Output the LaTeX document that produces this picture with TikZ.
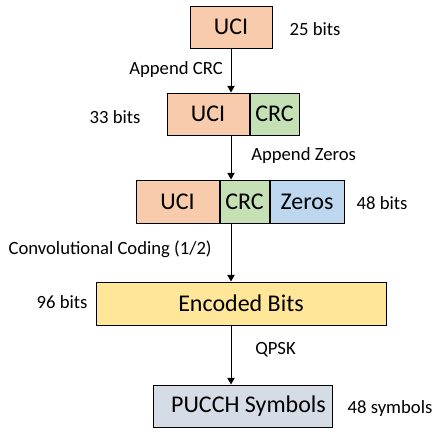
\documentclass[tikz,border=0pt]{standalone}
\usepackage{fontspec}
\setmainfont{Carlito}
\usetikzlibrary{arrows.meta}

\definecolor{ucifill}{HTML}{F8CBAD}
\definecolor{crcfill}{HTML}{C5E0B4}
\definecolor{zerosfill}{HTML}{BDD7EE}
\definecolor{encfill}{HTML}{FFE699}
\definecolor{symfill}{HTML}{D6DCE5}

\tikzset{
        field/.style={draw=black, line width=0.75pt, inner sep=0pt,
                minimum height=31.5pt, font=\fontsize{18}{21}\selectfont},
        note/.style={inner sep=0pt, font=\fontsize{14}{16}\selectfont},
        flow/.style={line width=0.75pt, -{Triangle[length=5pt,width=5.5pt]}}
}

\begin{document}
\begin{tikzpicture}[x=0.75pt, y=-0.75pt]
        \useasboundingbox (0,0) rectangle (448,440);

        % UCI
        \node[field, fill=ucifill, minimum width=61.5pt] (uci) at (231,27) {UCI};
        \node[note] (nuci) at (315,29) {25 bits};

        % UCI + CRC
        \node[field, fill=ucifill, minimum width=61.5pt] (uciA) at (208,114) {UCI};
        \node[field, fill=crcfill, minimum width=36.75pt, anchor=west] (crcA) at (uciA.east) {CRC};
        \node[note] (nA) at (115,117) {33 bits};

        % UCI + CRC + Zeros
        \node[field, fill=ucifill, minimum width=62.25pt, minimum height=32.25pt] (uciB) at (177.5,201.5) {UCI};
        \node[field, fill=crcfill, minimum width=36.75pt, minimum height=32.25pt, anchor=west] (crcB) at (uciB.east) {CRC};
        \node[field, fill=zerosfill, minimum width=55.5pt, minimum height=32.25pt, anchor=west] (zerosB) at (crcB.east) {Zeros};
        \node[note] (nB) at (382,203) {48 bits};

        % encoded
        \node[field, fill=encfill, minimum width=217.5pt, minimum height=32.25pt] (enc) at (241,303.5) {Encoded Bits\hspace{11pt}};
        \node[note] (nenc) at (62,302) {96 bits};

        % symbols
        \node[field, fill=symfill, minimum width=134.25pt] (sym) at (242.5,406) {\hspace{9pt}PUCCH Symbols};
        \node[note] (nsym) at (390,409) {48 symbols};

        % steps
        \draw[flow] (uci.south) -- (uci.south |- uciA.north);
        \draw[flow] (uci.south |- uciA.south) -- (uci.south |- crcB.north);
        \draw[flow] (uci.south |- crcB.south) -- (uci.south |- enc.north);
        \draw[flow] (uci.south |- enc.south) -- (uci.south |- sym.north);

        \node[note, anchor=east] (s1) at (223,70) {Append CRC};
        \node[note, anchor=west] (s2) at (251,156) {Append Zeros};
        \node[note, anchor=east] (s3) at (212,249) {Convolutional Coding (1/2)};
        \node[note, anchor=west] (s4) at (255,350) {QPSK};
\end{tikzpicture}
\end{document}
